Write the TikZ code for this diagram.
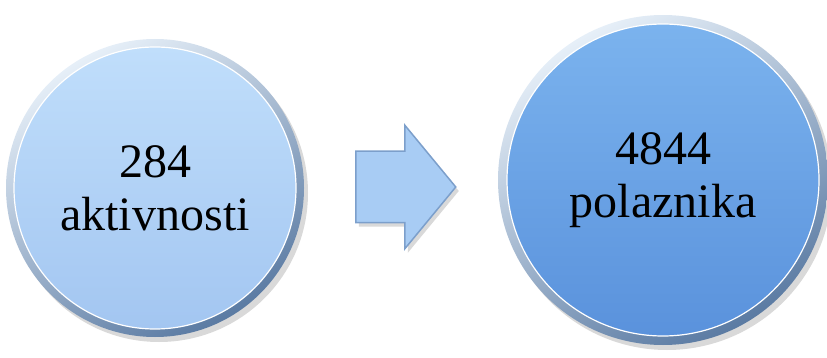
\documentclass[tikz,border=0pt]{standalone}
\usepackage{fontspec}
\setmainfont{Liberation Serif}
\usetikzlibrary{shapes.arrows,shadows}
\definecolor{ringlight}{HTML}{E6EFF8}
\definecolor{ringdark}{HTML}{5B7BA3}
\definecolor{paletop}{HTML}{C0DEFB}
\definecolor{palebot}{HTML}{A3C6F1}
\definecolor{deeptop}{HTML}{7BB3EE}
\definecolor{deepbot}{HTML}{5A92DC}
\definecolor{arrowfill}{HTML}{A8CCF4}
\definecolor{arrowedge}{HTML}{7C9FCB}
\tikzset{
  ring/.style={circle, inner sep=0pt, minimum size=#1, top color=ringlight, bottom color=ringdark, shading angle=30, drop shadow={shadow xshift=4pt, shadow yshift=-5pt, opacity=0.3}},
  disc/.style={circle, inner sep=0pt, minimum size=#1, draw=white, line width=1.2pt, align=center, font=\fontsize{48}{53}\selectfont},
}
\begin{document}
\begin{tikzpicture}[x=1pt,y=-1pt]
\useasboundingbox (0,0) rectangle (827,358);
\node[ring=298pt] (aktring) at (155,188){};
\node[disc=282pt, top color=paletop, bottom color=palebot] (akt) at (155,188){284\\aktivnosti};
\node[ring=330pt] (polring) at (663,180){};
\node[disc=312pt, top color=deeptop, bottom color=deepbot] (pol) at (663,180){4844\\polaznika};
\node[single arrow, anchor=tail, inner xsep=0pt, inner ysep=35pt, minimum height=100pt, minimum width=122pt, single arrow head extend=26pt, single arrow tip angle=101, fill=arrowfill, draw=arrowedge, line width=1.5pt, drop shadow={shadow xshift=3pt, shadow yshift=-4pt, opacity=0.3}] (strl) at (355,187){};
\end{tikzpicture}
\end{document}
